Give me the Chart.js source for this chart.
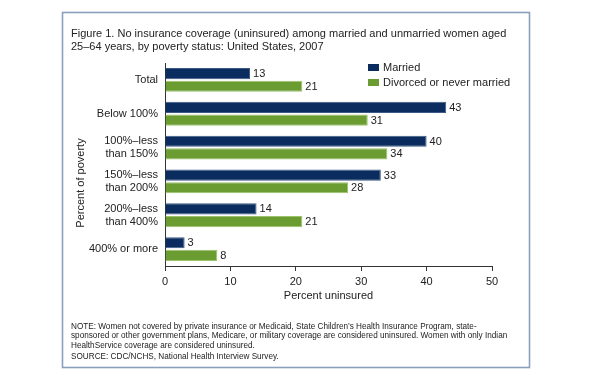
<!DOCTYPE html>
<html>
<head>
<meta charset="utf-8">
<script src="https://cdn.jsdelivr.net/npm/chart.js@4/dist/chart.umd.min.js"></script>
<style>
  html, body { margin: 0; padding: 0; background: #ffffff; }
  #wrap { width: 592px; height: 380px; position: relative; }
</style>
</head>
<body>
<div id="wrap"><canvas id="c" width="592" height="380"></canvas></div>
<script>
// ---- data ----
const categories = [
  ['Total'],
  ['Below 100%'],
  ['100%\u2013less', 'than 150%'],
  ['150%\u2013less', 'than 200%'],
  ['200%\u2013less', 'than 400%'],
  ['400% or more']
];
const seriesNames = ['Married', 'Divorced or never married'];
const married = [13, 43, 40, 33, 14, 3];
const divorced = [21, 31, 34, 28, 21, 8];
const xTickValues = [0, 10, 20, 30, 40, 50];
const titleLines = [
  'Figure 1. No insurance coverage (uninsured) among married and unmarried women aged',
  '25\u201364 years, by poverty status: United States, 2007'
];
const noteLines = [
  'NOTE: Women not covered by private insurance or Medicaid, State Children\u2019s Health Insurance Program, state-',
  'sponsored or other government plans, Medicare, or military coverage are considered uninsured. Women with only Indian',
  'HealthService coverage are considered uninsured.',
  'SOURCE: CDC/NCHS, National Health Interview Survey.'
];
const xAxisTitle = 'Percent uninsured';
const yAxisTitle = 'Percent of poverty';

// ---- style ----
const FONT = '"Liberation Sans", Arial, Helvetica, sans-serif';
const NAVY = '#0b2c5e';
const GREEN = '#6b9c32';
const TEXT = '#222222';

const decor = {
  id: 'decor',
  beforeDraw(chart) {
    const ctx = chart.ctx;
    ctx.save();
    ctx.fillStyle = '#ffffff';
    ctx.fillRect(0, 0, chart.width, chart.height);
    ctx.restore();
  },
  afterDraw(chart) {
    const ctx = chart.ctx;
    ctx.save();
    // frame
    ctx.strokeStyle = '#8ca0bd';
    ctx.lineWidth = 1.6;
    ctx.strokeRect(62.5, 12.5, 467, 355);
    // title
    ctx.fillStyle = TEXT;
    ctx.font = '11px ' + FONT;
    ctx.textAlign = 'left';
    ctx.textBaseline = 'middle';
    titleLines.forEach((t, i) => ctx.fillText(t, 71, 34 + i * 13));
    // notes
    ctx.font = '8.2px ' + FONT;
    const noteY = [326.5, 336, 345.5, 356.5];
    noteLines.forEach((t, i) => ctx.fillText(t, 71, noteY[i]));
    // y axis title (rotated)
    ctx.font = '11px ' + FONT;
    ctx.translate(81, 183);
    ctx.rotate(-Math.PI / 2);
    ctx.textAlign = 'center';
    ctx.fillText(yAxisTitle, 0, 0);
    ctx.restore();

    // legend
    ctx.save();
    ctx.font = '11px ' + FONT;
    ctx.textBaseline = 'middle';
    ctx.textAlign = 'left';
    chart.data.datasets.forEach((ds, i) => {
      const y = 67.5 + i * 15;
      ctx.fillStyle = ds.backgroundColor;
      ctx.fillRect(368, y - 3.5, 11, 7);
      ctx.fillStyle = TEXT;
      ctx.fillText(ds.label, 383, y);
    });
    ctx.restore();
  },
  afterDatasetsDraw(chart) {
    const ctx = chart.ctx;
    ctx.save();
    ctx.font = '11px ' + FONT;
    ctx.fillStyle = TEXT;
    ctx.textAlign = 'left';
    ctx.textBaseline = 'middle';
    chart.data.datasets.forEach((ds, di) => {
      chart.getDatasetMeta(di).data.forEach((bar, i) => {
        ctx.fillText(String(ds.data[i]), bar.x + 3, bar.y + 0.5);
      });
    });
    ctx.restore();
  }
};

new Chart(document.getElementById('c'), {
  type: 'bar',
  data: {
    labels: categories,
    datasets: [
      { label: seriesNames[0], data: married, backgroundColor: NAVY, borderColor: '#3d5a85', borderWidth: 1, borderSkipped: 'left' },
      { label: seriesNames[1], data: divorced, backgroundColor: GREEN, borderColor: '#9cc26c', borderWidth: 1, borderSkipped: 'left' }
    ]
  },
  options: {
    indexAxis: 'y',
    responsive: false,
    animation: false,
    devicePixelRatio: 1,
    categoryPercentage: 0.75,
    barPercentage: 0.88,
    layout: { padding: { left: 0, right: 100, top: 63, bottom: 74 } },
    plugins: {
      legend: { display: false },
      title: { display: false },
      tooltip: { enabled: false }
    },
    scales: {
      x: {
        type: 'linear',
        position: 'bottom',
        min: 0,
        max: 50,
        afterBuildTicks(scale) { scale.ticks = xTickValues.map(v => ({ value: v })); },
        afterFit(scale) { scale.height = 40; scale.paddingLeft = 0; scale.paddingRight = 0; },
        grid: { display: true, drawOnChartArea: false, drawTicks: true, tickLength: 5, color: '#333333', lineWidth: 1 },
        border: { display: true, color: '#333333', width: 1 },
        ticks: { color: TEXT, font: { family: FONT, size: 11 }, padding: 4, maxRotation: 0 },
        title: { display: true, text: xAxisTitle, color: TEXT, font: { family: FONT, size: 11 }, padding: { top: 2, bottom: 3 } }
      },
      y: {
        type: 'category',
        position: 'left',
        afterFit(scale) { scale.width = 165; scale.paddingTop = 0; scale.paddingBottom = 0; },
        grid: { display: true, drawOnChartArea: false, drawTicks: false, color: '#333333' },
        border: { display: true, color: '#333333', width: 1 },
        ticks: { color: TEXT, font: { family: FONT, size: 11, lineHeight: 1.15 }, padding: 7, autoSkip: false }
      }
    }
  },
  plugins: [decor]
});
</script>
</body>
</html>
